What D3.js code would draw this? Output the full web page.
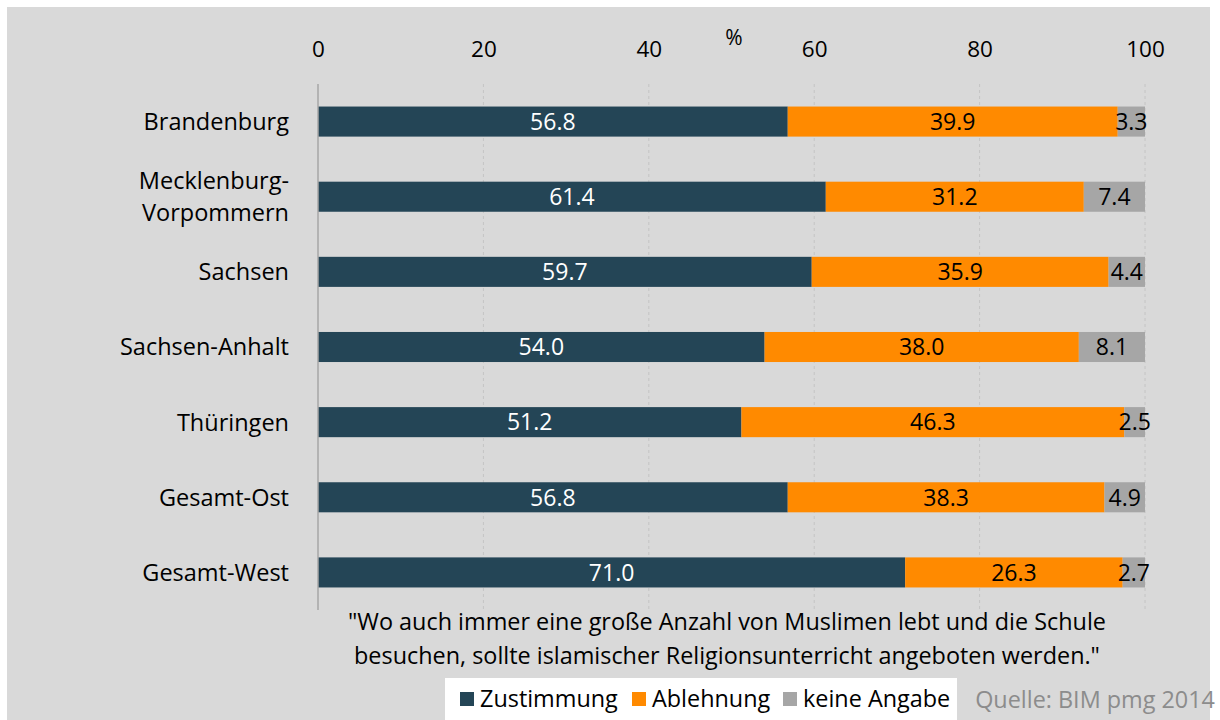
<!DOCTYPE html>
<html>
<head>
<meta charset="utf-8">
<script src="https://cdn.jsdelivr.net/npm/d3@7"></script>
<style>
  body { margin: 0; background: #fff; }
  svg { display: block; font-family: "Open Sans", sans-serif; }
</style>
</head>
<body>
<div id="chart"></div>
<script>
// data
const regions = ["Brandenburg", "Mecklenburg-\nVorpommern", "Sachsen", "Sachsen-Anhalt", "Thüringen", "Gesamt-Ost", "Gesamt-West"];
const zustimmung = [56.8, 61.4, 59.7, 54.0, 51.2, 56.8, 71.0];
const ablehnung  = [39.9, 31.2, 35.9, 38.0, 46.3, 38.3, 26.3];
const keineAngabe = [3.3, 7.4, 4.4, 8.1, 2.5, 4.9, 2.7];
const seriesNames = ["Zustimmung", "Ablehnung", "keine Angabe"];
const xTicks = [0, 20, 40, 60, 80, 100];
const colors = ["#244556", "#ff8a00", "#a6a6a6"];
const labelColors = ["#ffffff", "#000000", "#000000"];

const W = 1220, H = 720;
const svg = d3.select("#chart").append("svg").attr("width", W).attr("height", H);

// background panel
svg.append("rect").attr("x", 7).attr("y", 7).attr("width", 1203).attr("height", H - 7).attr("fill", "#d9d9d9");

const x = d3.scaleLinear().domain([0, 100]).range([318, 1145]);
const y = d3.scaleBand().domain(regions).range([84, 610]).paddingInner(0.6).paddingOuter(0.3);

// gridlines
svg.append("g").selectAll("line").data(xTicks.slice(1)).join("line")
  .attr("x1", d => x(d)).attr("x2", d => x(d))
  .attr("y1", 84).attr("y2", 610)
  .attr("stroke", "#c4c4c4").attr("stroke-dasharray", "3,3");

// top axis labels
const xAxis = d3.axisTop(x).tickValues(xTicks).tickSize(0).tickPadding(0);
const gx = svg.append("g").attr("transform", "translate(0,57)").call(xAxis);
gx.select(".domain").remove();
gx.selectAll("text").attr("font-size", 22.5).attr("fill", "#000").attr("font-family", "Open Sans, sans-serif");

svg.append("text").attr("x", 734).attr("y", 45).attr("text-anchor", "middle")
  .attr("font-size", 21).text("%");

// stacked data
const rows = regions.map((r, i) => ({ region: r, Zustimmung: zustimmung[i], Ablehnung: ablehnung[i], "keine Angabe": keineAngabe[i] }));
const stack = d3.stack().keys(seriesNames)(rows);

const layers = svg.append("g").selectAll("g").data(stack).join("g")
  .attr("fill", (d, i) => colors[i]);

layers.selectAll("rect").data(d => d).join("rect")
  .attr("x", d => x(d[0]))
  .attr("width", d => Math.min(x(d[1]), x(100)) - x(d[0]))
  .attr("y", d => y(d.data.region))
  .attr("height", y.bandwidth());

layers.each(function (layer, li) {
  d3.select(this).selectAll("text").data(layer).join("text")
    .attr("x", d => (x(d[0]) + Math.min(x(d[1]), x(100))) / 2)
    .attr("y", d => y(d.data.region) + y.bandwidth() / 2)
    .attr("dy", "0.36em")
    .attr("text-anchor", "middle")
    .attr("font-size", 23)
    .attr("fill", labelColors[li])
    .text(d => d3.format(".1f")(d.data[layer.key]));
});

// axis line
svg.append("line").attr("x1", x(0)).attr("x2", x(0)).attr("y1", 84).attr("y2", 610)
  .attr("stroke", "#a6a6a6").attr("stroke-width", 1.5);

// category labels
const cat = svg.append("g").selectAll("text").data(regions).join("text")
  .attr("x", 289)
  .attr("y", d => y(d) + y.bandwidth() / 2)
  .attr("text-anchor", "end")
  .attr("font-size", 23.5)
  .attr("fill", "#000");
cat.each(function (d) {
  const lines = d.split("\n");
  const t = d3.select(this);
  lines.forEach((l, i) => {
    t.append("tspan").attr("x", 289)
      .attr("dy", i === 0 ? ((0.36 - (lines.length - 1) * 0.68) + "em") : "1.36em")
      .text(l);
  });
});

// caption
const caption = ["\"Wo auch immer eine große Anzahl von Muslimen lebt und die Schule",
                 "besuchen, sollte islamischer Religionsunterricht angeboten werden.\""];
svg.append("g").selectAll("text").data(caption).join("text")
  .attr("x", 727).attr("y", (d, i) => 630 + i * 34)
  .attr("text-anchor", "middle").attr("font-size", 23.4).attr("fill", "#000")
  .text(d => d);

// legend
svg.append("rect").attr("x", 445).attr("y", 678).attr("width", 512).attr("height", 42).attr("fill", "#fff");
const legX = [460, 632, 783];
const leg = svg.append("g").selectAll("g").data(seriesNames).join("g")
  .attr("transform", (d, i) => `translate(${legX[i]},692)`);
leg.append("rect").attr("width", 14).attr("height", 14).attr("fill", (d, i) => colors[i]);
leg.append("text").attr("x", 20).attr("y", 7).attr("dy", "0.36em")
  .attr("font-size", 23.4).attr("fill", "#000").text(d => d);

svg.append("text").attr("x", 1215).attr("y", 708).attr("text-anchor", "end")
  .attr("font-size", 23.4).attr("fill", "#8c8c8c").text("Quelle: BIM pmg 2014");
</script>
</body>
</html>
